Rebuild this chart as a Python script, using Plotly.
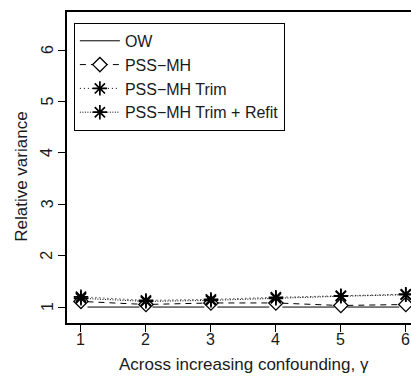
import plotly.graph_objects as go

gamma = [1, 2, 3, 4, 5, 6]
ow = [1.0, 1.0, 1.0, 1.0, 1.0, 1.0]
pss_mh = [1.11, 1.05, 1.08, 1.08, 1.03, 1.05]
pss_trim = [1.20, 1.13, 1.15, 1.19, 1.22, 1.25]
pss_refit = [1.17, 1.11, 1.13, 1.17, 1.21, 1.24]
y_ticks = [1, 2, 3, 4, 5, 6]
x_title = "Across increasing confounding, \u03b3"
y_title = "Relative variance"

FONT = "Liberation Sans, Arial, Helvetica, sans-serif"
TXT = "#1a1a1a"


def gapped(xs, ys, g=0.1):
    gx, gy = [], []
    for i in range(len(xs) - 1):
        x0, x1, y0, y1 = xs[i], xs[i + 1], ys[i], ys[i + 1]
        t = g / (x1 - x0)
        gx += [x0 + g, x1 - g, None]
        gy += [y0 + (y1 - y0) * t, y1 - (y1 - y0) * t, None]
    return gx, gy


def marker_style(sym):
    if sym == "diamond":
        return dict(symbol="diamond", size=11, color="white",
                    line=dict(color="black", width=1.3))
    return dict(symbol="asterisk-open", size=12, color="black",
                line=dict(color="black", width=1.7))


fig = go.Figure()

series = [
    ("OW", ow, "solid", None),
    ("PSS\u2212MH", pss_mh, "6px,5px", "diamond"),
    ("PSS\u2212MH Trim", pss_trim, "1px,3px", "asterisk"),
    ("PSS\u2212MH Trim + Refit", pss_refit, "1px,1.5px", "asterisk"),
]

for name, ys, dash, sym in series:
    gx, gy = gapped(gamma, ys)
    fig.add_trace(go.Scatter(x=gx, y=gy, mode="lines", name=name,
                             line=dict(color="black", width=1, dash=dash),
                             legendgroup=name, showlegend=(sym is None)))
    if sym is not None:
        fig.add_trace(go.Scatter(
            x=gamma, y=ys, mode="markers", name=name, legendgroup=name,
            marker=marker_style(sym), showlegend=False))
        fig.add_trace(go.Scatter(
            x=[None], y=[None], mode="lines+markers", name=name, legendgroup=name,
            line=dict(color="black", width=1, dash=dash),
            marker=marker_style(sym)))

annotations = []
for v in y_ticks:
    annotations.append(dict(xref="paper", yref="y", x=-0.058, y=v, text=str(v),
                            textangle=-90, showarrow=False, xanchor="center",
                            yanchor="middle", font=dict(size=16, color=TXT)))
for v in gamma:
    annotations.append(dict(xref="x", yref="paper", x=v, y=-0.053, text=str(v),
                            showarrow=False, xanchor="center", yanchor="middle",
                            font=dict(size=16, color=TXT)))
annotations.append(dict(xref="paper", yref="paper", x=0.5145, y=-0.135, text=x_title,
                        showarrow=False, xanchor="center", yanchor="middle",
                        font=dict(size=17, color=TXT)))
annotations.append(dict(xref="paper", yref="paper", x=-0.131, y=0.47, text=y_title,
                        textangle=-90, showarrow=False, xanchor="center", yanchor="middle",
                        font=dict(size=17, color=TXT)))

fig.update_layout(
    width=411, height=378,
    margin=dict(l=67, r=0, t=12, b=55),
    paper_bgcolor="white", plot_bgcolor="white",
    font=dict(family=FONT, size=16, color=TXT),
    legend=dict(x=0.02, y=0.965, xanchor="left", yanchor="top",
                bordercolor="black", borderwidth=1, bgcolor="white",
                font=dict(size=16), tracegroupgap=0, itemwidth=40),
    showlegend=True,
    annotations=annotations,
)
fig.update_xaxes(range=[0.785, 6.08], tickvals=gamma, ticks="outside", ticklen=7,
                 tickcolor="black", showticklabels=False,
                 showline=True, linecolor="black", linewidth=1.5,
                 mirror=True, showgrid=False, zeroline=False)
fig.update_yaxes(range=[0.69, 6.74], tickvals=y_ticks, ticks="outside", ticklen=7,
                 tickcolor="black", showticklabels=False,
                 showline=True, linecolor="black",
                 linewidth=1.5, mirror=False, showgrid=False, zeroline=False)

fig.write_html("out.html")
